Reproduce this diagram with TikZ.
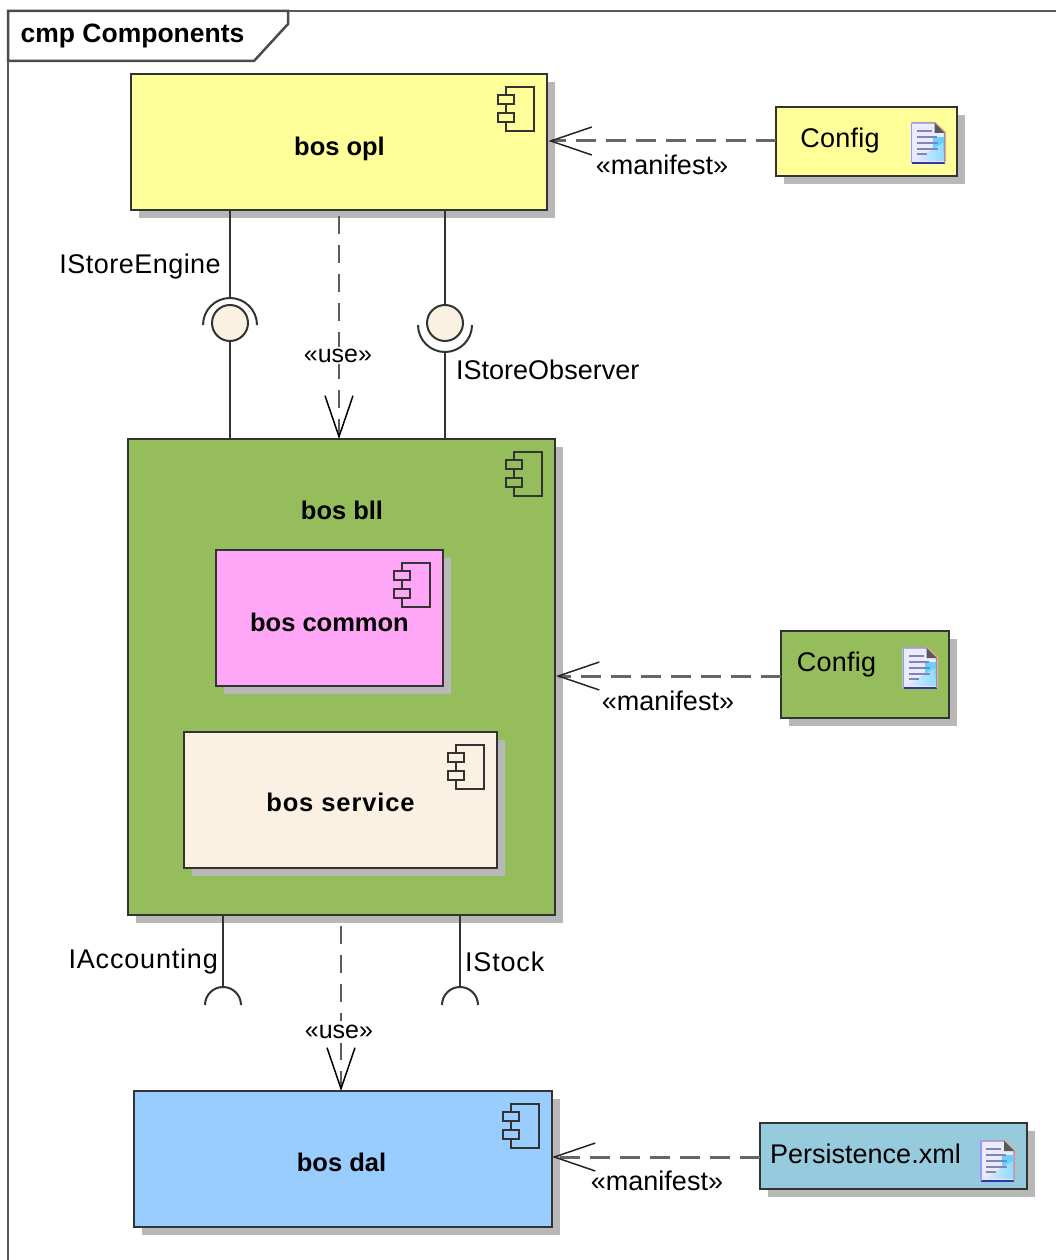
\documentclass[tikz,border=0pt]{standalone}
\usepackage{fontspec}
\setmainfont{Liberation Sans}
\usetikzlibrary{arrows.meta,shadows,calc}
\definecolor{yel}{HTML}{FFFF99}
\definecolor{grn}{HTML}{95BD5B}
\definecolor{pnk}{HTML}{FFA6F7}
\definecolor{crm}{HTML}{FAF1E3}
\definecolor{blu}{HTML}{99CCFF}
\definecolor{teal2}{HTML}{96CBDE}
\definecolor{shd}{HTML}{B8B8B8}
\definecolor{lin}{HTML}{333333}
\tikzset{
  x=1pt,y=1pt,
  boxed/.style={draw=lin,line width=2.2pt,rectangle,inner sep=0pt,outer sep=0pt,anchor=north west,
    drop shadow={shadow xshift=8pt,shadow yshift=-8pt,fill=shd,opacity=1}},
  txt/.style={font=\fontsize{27}{30}\selectfont,text=black,inner sep=0pt},
  btxt/.style={font=\fontsize{25.5}{30}\selectfont\bfseries,text=black,inner sep=0pt},
  ball/.style={circle,draw=lin,line width=2pt,fill=crm,minimum size=36pt,inner sep=0pt,outer sep=0pt},
  solidline/.style={draw=lin,line width=2.2pt},
  depend/.style={draw=lin!80!white,line width=2.2pt,dash pattern=on 18pt off 11pt,
    -{Straight Barb[length=41pt,width=28pt,black,line width=1.5pt]}},
  manifestline/.style={draw=gray!80!black,line width=3pt,dash pattern=on 20pt off 10pt,
    -{Straight Barb[length=41pt,width=28pt,black!85,line width=1.5pt]}},
  pics/compicon/.style={code={
    \draw[draw=lin,line width=2pt] (-41,-13) rectangle (-13,-57);
    \draw[draw=lin,fill=#1,line width=2pt] (-49,-21) rectangle (-33,-30);
    \draw[draw=lin,fill=#1,line width=2pt] (-49,-39) rectangle (-33,-48);
  }},
  docicon/.pic={
    \fill[orange!60!white] (1,1) -- (25,1) -- (35.5,-9) -- (35.5,-39) -- (1,-39) -- cycle;
    \fill[blue!8!white] (0,0) -- (24,0) -- (34,-10) -- (34,-40) -- (0,-40) -- cycle;
    \fill[blue!30!cyan!60!white] (22,-14) -- (33,-14) -- (33,-30) -- (22,-30) -- cycle;
    \path[left color=blue!8!white,right color=blue!30!cyan!45!white] (2,-38) -- (33,-20) -- (33,-38) -- cycle;
    \draw[blue!30!gray!75!white,line width=2pt]
      (6,-8) -- (21,-8) (6,-14) -- (26,-14) (6,-20) -- (27,-20) (6,-26) -- (27,-26) (6,-31) -- (16,-31);
    \draw[blue!60!black!80!white,line width=1.5pt] (1,-40) -- (34,-40);
    \draw[blue!40!white,line width=1.2pt] (1,-40) -- (1,0);
    \draw[blue!50!gray!60!white,line width=1.2pt] (1,0) -- (24,0) -- (34,-10) -- (34,-40);
    \fill[black!65] (24,0) -- (24,-10) -- (34,-10) -- cycle;
  },
}
\begin{document}
\begin{tikzpicture}
\useasboundingbox (0,0) rectangle (1056,-1260);
\fill[white] (0,0) rectangle (1056,-1260);

% frame
\draw[gray!70!black,line width=2.5pt] (8,-1260) -- (8,-11) -- (1056,-11);
\node[inner sep=0pt,font=\fontsize{26.5}{30}\selectfont\bfseries,text=black] (tabtext) at (132.5,-36.5) {cmp Components};
\draw[gray!60!black,line width=2.5pt] (8,-11) -- (288,-11) -- (288,-24) -- (254,-61) -- (8,-61) -- cycle;

% components
\node[boxed,fill=yel,minimum width=416pt,minimum height=136pt] (opl) at (131,-74) {};
\node[boxed,fill=grn,minimum width=427pt,minimum height=476pt] (bll) at (128,-439) {};
\node[boxed,fill=pnk,minimum width=227pt,minimum height=136pt] (common) at (216,-550) {};
\node[boxed,fill=crm,minimum width=313pt,minimum height=136pt] (service) at (184,-732) {};
\node[boxed,fill=blu,minimum width=418pt,minimum height=136pt] (dal) at (134,-1091) {};
\pic at (opl.north east) {compicon=yel};
\pic at (bll.north east) {compicon=grn};
\pic at (common.north east) {compicon=pnk};
\pic at (service.north east) {compicon=crm};
\pic at (dal.north east) {compicon=blu};
\node[btxt] (tOpl) at (339.5,-149) {bos opl};
\node[btxt] (tBll) at (342,-510) {bos bll};
\node[btxt] (tCommon) at (329.5,-622) {bos common};
\node[btxt] (tService) at (340.5,-802) {\addfontfeature{LetterSpace=3.5}bos service};
\node[btxt] (tDal) at (341.5,-1162) {bos dal};

% artifacts
\node[boxed,fill=yel,minimum width=181pt,minimum height=69pt] (cfgA) at (776,-107) {};
\node[boxed,fill=grn,minimum width=168pt,minimum height=87pt] (cfgB) at (781,-631) {};
\node[boxed,fill=teal2,minimum width=267pt,minimum height=66pt] (persist) at (760,-1123) {};
\node[txt] (tCfgA) at (840,-141) {\addfontfeature{LetterSpace=1}Config};
\node[txt] (tCfgB) at (836.5,-665) {\addfontfeature{LetterSpace=1}Config};
\node[txt,anchor=west] (tPersist) at (770,-1154) {Persistence.xml};
\pic at (910.5,-123) {docicon};
\pic at (902.5,-648) {docicon};
\pic at (980,-1141) {docicon};

% manifest connectors
\coordinate (mA) at (776,-141);
\coordinate (mB) at (781,-676);
\coordinate (mC) at (760,-1157);
\draw[manifestline] (mA) -- ($(opl.east |- mA)+(1.5,0)$);
\draw[manifestline] (mB) -- ($(bll.east |- mB)+(1,0)$);
\draw[manifestline] (mC) -- (dal.east |- mC);
\node[txt] (mlA) at (662,-165) {«manifest»};
\node[txt] (mlB) at (668,-701) {«manifest»};
\node[txt] (mlC) at (657,-1181) {«manifest»};

% provided / required interfaces, top
\node[ball] (ballA) at (230,-323) {};
\node[ball] (ballB) at (445,-323) {};
\draw[solidline] (opl.south -| ballA) -- ++(0,-88);
\draw[solidline] (ballA.south) -- (ballA.south |- bll.north);
\draw[solidline,line width=2pt] ($(ballA.center)+(-27,-2)$) arc[start angle=180,end angle=0,radius=27];
\draw[solidline] (opl.south -| ballB) -- (ballB.north);
\draw[solidline] ($(ballB.center)+(0,-29)$) -- (bll.north -| ballB);
\draw[solidline,line width=2pt] ($(ballB.center)+(-27,-2)$) arc[start angle=180,end angle=360,radius=27];
\node[txt,anchor=east] (lEngine) at (221,-267) {\addfontfeature{LetterSpace=1.8}IStoreEngine};
\node[txt,anchor=west] (lObserver) at (456,-370) {IStoreObserver};

% required interfaces, bottom
\coordinate (sockA) at (223,-1005);
\coordinate (sockB) at (460,-1005);
\draw[solidline] (bll.south -| sockA) -- ($(sockA)+(0,18)$);
\draw[solidline] (bll.south -| sockB) -- ($(sockB)+(0,18)$);
\draw[solidline,line width=2pt] ($(sockA)+(-18,0)$) arc[start angle=180,end angle=0,radius=18];
\draw[solidline,line width=2pt] ($(sockB)+(-18,0)$) arc[start angle=180,end angle=0,radius=18];
\node[txt,anchor=east] (lAcc) at (218,-962) {\addfontfeature{LetterSpace=3}IAccounting};
\node[txt,anchor=west] (lStock) at (465,-962) {\addfontfeature{LetterSpace=3}IStock};

% use dependencies
\coordinate (useA) at (339,-216);
\coordinate (useB) at (341,-926);
\draw[depend] (useA) -- (useA |- bll.north);
\draw[depend] (useB) -- (useB |- dal.north);
\node[txt,fill=white,inner ysep=2pt,inner xsep=1pt,font=\fontsize{25}{28}\selectfont] (uA) at (338,-355.5) {«use»};
\node[txt,fill=white,inner ysep=4pt,inner xsep=1pt,font=\fontsize{25}{28}\selectfont] (uB) at (339,-1032) {«use»};
\end{tikzpicture}
\end{document}
